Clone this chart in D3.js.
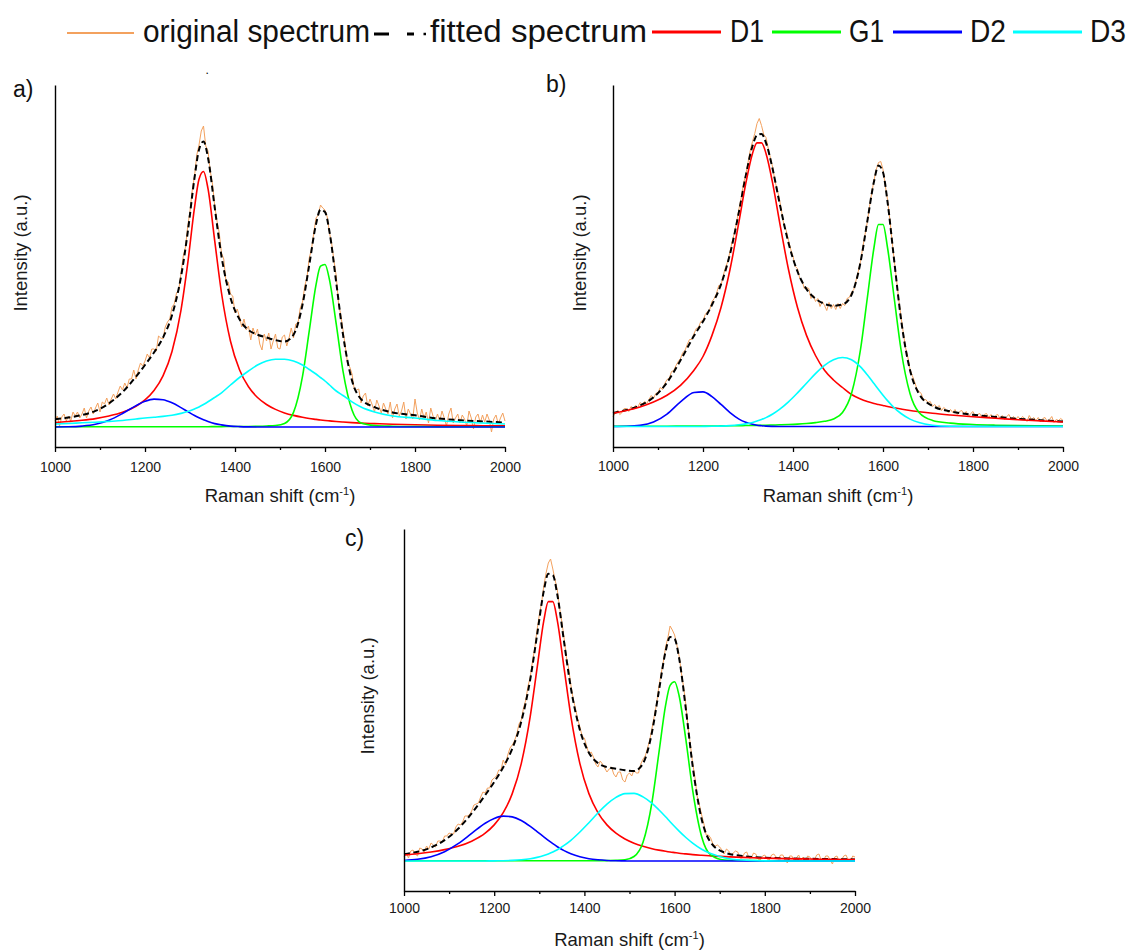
<!DOCTYPE html>
<html><head><meta charset="utf-8">
<script src="https://cdn.jsdelivr.net/npm/d3@7"></script>
<style>body{margin:0;background:#fff} svg{display:block} text{font-family:"Liberation Sans",Arial,sans-serif}</style>
</head><body><svg id="c" width="1132" height="952"></svg>
<script>
// ---------- data ----------
const seriesNames = ["original spectrum", "fitted spectrum", "D1", "G1", "D2", "D3"];
const seriesColors = ["#F3A15E", "#000000", "#FF0000", "#00FF00", "#0000FF", "#00FFFF"];
const majorTicks = [1000, 1200, 1400, 1600, 1800, 2000];
const minorTicks = [1100, 1300, 1500, 1700, 1900];
const xTitle = "Raman shift (cm";
const yTitle = "Intensity (a.u.)";

// raw spectrum sampling (cm-1), every 5 cm-1
const rawX = d3.range(1000, 2001, 5);
// fitted / component sampling (cm-1)
const fitX = [1000,1030,1060,1090,1120,1150,1180,1200,1220,1240,1260,1280,1295,1310,1320,1330,1340,1355,1370,1390,1410,1430,1450,1470,1490,1510,1530,1550,1565,1580,1590,1600,1610,1625,1640,1660,1680,1710,1750,1800,1850,1900,1950,2000];

// panel a
const aOriginal = [6,11,1,10,13,6,11,6,15,11, 15,9,13,19,9,16,20,13,19,24, 15,25,23,29,22,28,33,28,35,41, 37,44,39,48,48,57,48,57,64,61, 66,73,69,78,78,76,91,89,88,100, 105,108,120,123,134,137,154,171,180,201, 216,237,251,272,282,296,301,281,276,256, 243,221,206,194,174,168,145,145,133,131, 114,118,110,100,108,97,101,87,99,92, 98,83,77,93,86,94,78,86,93,79, 78,90,92,81,89,99,89,103,104,119, 125,141,150,169,178,194,209,212,222,219, 217,210,194,183,166,151,124,112,97,81, 64,60,53,38,37,38,24,31,34,21, 28,22,15,27,21,14,24,18,13,25, 9,18,23,11,16,25,8,18,13,8, 28,14,7,18,9,15,4,19,11,6, 13,6,16,9,1,13,19,4,9,13, 4,12,8,1,16,9,-2,10,13,4, 12,5,13,7,-5,8,12,3,9,14, 6];
const aFitted = [7.8,9.4,12.0,16.1,23.6,34.9,50.4,62.0,74.5,89.4,111.8,150.2,194.9,249.1,277.3,285.5,269.3,219.3,170.7,129.2,107.7,96.9,92.3,89.5,86.9,85.4,92.2,122.3,162.1,202.8,217.3,215,195.2,144.3,92.4,46.5,27.9,19.9,14.6,11.7,8.6,6.8,5.6,4.4];
const aD1 = [4.5,5.5,6.7,8.4,11.0,14.7,20.8,27.1,36.5,51.2,75.5,116.9,163.8,219.3,247.8,255.5,238.3,185.9,134.0,85.8,57.3,40.2,29.5,22.5,17.6,14.1,11.6,9.7,8.5,7.6,7.0,6.5,6.1,5.5,5.0,4.4,3.9,3.4,2.75,2.2,1.8,1.5,1.3,1.1];
const aG1 = [0.2,0.2,0.2,0.2,0.2,0.2,0.2,0.2,0.3,0.3,0.3,0.3,0.3,0.3,0.3,0.3,0.3,0.4,0.4,0.5,0.5,0.5,0.7,1.0,1.5,3.5,14.6,50.6,96.1,142.2,160.8,162.5,147.1,102.8,55.9,16.9,4.0,1.5,0.8,0.5,0.3,0.3,0.3,0.3];
const aD2 = [0.05,0.2,0.9,2.7,6.8,13.5,21.4,25.7,27.9,27.3,24.2,19.4,15.4,11.5,9.2,7.2,5.5,3.4,2.1,0.9,0.4,0.15,0.05,0,0,0,0,0,0,0,0,0,0,0,0,0,0,0,0,0,0,0,0,0];
const aD3 = [3,3.5,4.2,4.8,5.6,6.5,8,9,9.8,10.6,11.8,13.6,15.4,18,20,22.5,25.2,29.6,34.2,42,49.5,56,62,66,67.8,67.8,66,62,57.5,53,49.5,46,42,36,31.5,25.2,20,15,11,9,6.5,5,4,3];

// panel b
const bOriginal = [10,13,16,12,14,18,18,15,20,18, 21,19,24,22,25,23,27,31,28,33, 34,39,37,43,47,48,55,56,61,65, 68,74,76,82,87,87,93,98,99,105, 106,112,115,117,125,128,133,141,141,151, 159,165,175,185,194,205,218,229,243,252, 264,276,285,293,303,308,301,292,289,278, 268,259,245,237,227,214,201,196,186,177, 170,160,158,148,146,138,139,138,128,131, 125,128,120,125,121,116,124,118,122,117, 123,118,123,121,128,129,134,137,146,155, 165,179,192,204,220,234,246,257,264,265, 257,241,227,208,186,166,147,127,110,94, 79,70,57,51,45,38,35,33,26,27, 24,25,20,22,19,21,16,19,17,14, 17,14,17,12,15,16,12,15,10,13, 15,10,12,13,9,12,13,9,12,8, 11,12,8,11,7,10,12,7,10,7, 10,7,10,8,5,11,7,9,6,9, 5,8,9,5,7,10,4,7,6,8, 6];
const bFitted = [13.5,16.5,21.0,29.2,44.0,66.2,90.7,105.1,121.7,142.1,172.5,214.9,250.6,280.5,291.4,292.6,283.7,257.0,223.8,183.6,155.0,137.4,127.8,122.6,120.7,122,131.7,164.1,204.8,245,261.1,254.3,224.9,165.4,107.5,56.4,32.7,20.6,15.1,11.7,9.6,7.7,6.3,5.05];
const bD1 = [13.3,16.0,19.6,24.5,31.3,41.2,56.3,70,91.1,119.0,157.0,204.9,242.8,273.1,283.6,283.6,273.1,242.8,204.9,157.0,119.0,91.1,71.0,56.3,46.5,39,32,27.5,25,23,22,21,20,18.7,17.5,16,14.8,13.2,11.5,9.7,8.3,6.8,5.6,4.5];
const bG1 = [0.2,0.25,0.25,0.3,0.3,0.35,0.4,0.45,0.5,0.6,0.7,0.87,0.95,1.05,1.13,1.2,1.3,1.5,1.7,2.0,2.4,3.0,3.9,5.2,7.5,14,33,77,128,179,202,202,179,128,77,33,14,6.1,3.4,2.0,1.3,0.9,0.7,0.55];
const bD2 = [0,0.2,1.1,4.4,12.4,24.6,34.0,34.6,29.9,22.1,13.9,7.4,4.2,2.2,1.3,0.8,0.4,0.15,0.05,0,0,0,0,0,0,0,0,0,0,0,0,0,0,0,0,0,0,0,0,0,0,0,0,0];
const bD3 = [0,0,0,0,0,0,0,0.08,0.19,0.41,0.86,1.7,2.65,4.1,5.4,7.0,8.9,12.5,17.1,24.6,33.6,43.3,52.9,61.1,66.7,69,66.7,59.6,51.8,43.0,37.1,31.3,25.9,18.7,13.0,7.4,3.9,1.3,0.2,0,0,0,0,0];

// panel c
const cOriginal = [4,8,3,10,11,7,5,13,12,9, 15,12,18,16,14,20,20,19,25,25, 28,27,27,34,37,36,39,45,45,46, 50,56,57,58,64,69,68,73,73,81, 83,85,91,91,101,96,106,113,116,120, 127,137,141,153,161,175,184,200,213,231, 246,258,275,288,298,302,292,281,271,253, 239,223,204,193,176,162,153,142,134,125, 123,115,107,109,104,97,94,100,97,93, 89,92,94,87,84,89,89,81,79,86, 88,85,91,88,88,97,102,105,113,121, 133,145,157,174,187,199,214,223,235,231, 226,216,205,188,174,156,133,116,98,84, 65,56,46,37,26,26,23,17,15,16, 14,11,7,12,10,6,8,10,9,3, 3,8,9,3,3,8,7,2,1,5, 6,2,1,6,7,4,2,6,6,1, -2,5,5,0,3,6,1,4,0,5, 4,0,1,6,7,1,0,5,5,1, -3,4,5,0,1,5,6,1,0,5, 4];
const cFitted = [6.8,9.2,13.5,20.9,32.2,47.6,65.9,79.0,93.8,112.3,139.3,181.9,225.8,270.1,287.2,285.9,266.2,218.8,173.0,131.0,108.3,97.9,93.9,92.3,90.7,89.9,97.6,129.1,169.6,209.5,223.9,222.1,203,151.9,95.2,41.8,18.6,8.65,5.0,3.3,2.55,2.2,1.9,1.6];
const cD1 = [6.06,7.32,9.0,11.35,14.7,19.8,27.8,36.1,48.4,67.4,97.4,144.8,192.6,240.4,259.4,259.4,240.4,192.6,144.8,97.4,67.4,48.4,36.1,27.8,22.0,17.8,14.7,12.3,10.9,9.7,9.0,8.4,7.8,7.1,6.4,5.7,5.1,4.35,3.6,2.9,2.35,1.97,1.67,1.43];
const cG1 = [0.2,0.2,0.2,0.2,0.2,0.2,0.2,0.2,0.2,0.2,0.2,0.2,0.2,0.2,0.2,0.2,0.2,0.2,0.2,0.2,0.25,0.3,0.4,0.6,1.2,4.5,18.8,59.2,107.5,155.6,175.6,179.2,165.3,121.3,70.9,24.3,6.1,1.0,0.5,0.3,0.2,0.2,0.2,0.2];
const cD2 = [0.56,1.7,4.3,9.3,17.3,27.6,37.8,42.6,44.9,44.1,40.5,34.6,29.4,24.1,20.6,17.3,14.3,10.4,7.3,4.3,2.3,1.2,0.56,0.25,0.1,0,0,0,0,0,0,0,0,0,0,0,0,0,0,0,0,0,0,0];
const cD3 = [0,0,0,0,0,0,0.05,0.13,0.29,0.61,1.22,2.3,3.6,5.4,7.0,9.0,11.3,15.6,20.7,29.0,38.3,48.0,56.8,63.6,67.4,67.6,64.1,57.6,51.2,44.2,39.3,34.5,29.9,23.5,17.9,11.8,7.4,3.3,0.93,0.14,0,0,0,0];

// ---------- layout ----------
const panels = [
  {label:"a)", orig:aOriginal, fit:aFitted, comps:[aD1,aG1,aD2,aD3], x0:55, x1:505, yTop:85, yBot:447, yDom:[-20,342], pad:10, labX:13, labY:97, yLabX:27, yLabY:253, titleY:502},
  {label:"b)", orig:bOriginal, fit:bFitted, comps:[bD1,bG1,bD2,bD3], x0:613, x1:1063, yTop:85, yBot:447, yDom:[-20.5,341.5], pad:9, labX:546, labY:92, yLabX:586, yLabY:253, titleY:502},
  {label:"c)", orig:cOriginal, fit:cFitted, comps:[cD1,cG1,cD2,cD3], x0:404, x1:855, yTop:529, yBot:891, yDom:[-30,332], pad:7, labX:345, labY:546, yLabX:374, yLabY:696, titleY:946}
];

const svg = d3.select("#c");

panels.forEach(p => {
  const x = d3.scaleLinear().domain([1000, 2000]).range([p.x0, p.x1]);
  const y = d3.scaleLinear().domain(p.yDom).range([p.yBot, p.yTop]);
  const g = svg.append("g");

  // curves
  const rawLine = d3.line().x((d, i) => x(rawX[i])).y(d => y(d));
  const smoothLine = d3.line().x((d, i) => x(fitX[i])).y(d => y(d)).curve(d3.curveMonotoneX);
  g.append("path").attr("d", rawLine(p.orig)).attr("fill", "none")
    .attr("stroke", seriesColors[0]).attr("stroke-width", 1).attr("stroke-linejoin", "round");
  g.append("path").attr("d", smoothLine(p.fit)).attr("fill", "none")
    .attr("stroke", seriesColors[1]).attr("stroke-width", 2).attr("stroke-dasharray", "6,3.5");
  p.comps.forEach((c, k) => {
    g.append("path").attr("d", smoothLine(c)).attr("fill", "none")
      .attr("stroke", seriesColors[k + 2]).attr("stroke-width", 1.6);
  });

  // axes
  const ax = g.append("g").attr("transform", `translate(0,${p.yBot})`)
    .call(d3.axisBottom(x).tickValues(majorTicks).tickSize(5).tickSizeOuter(0).tickPadding(p.pad).tickFormat(d3.format("d")));
  ax.selectAll("text").attr("font-size", 14).attr("fill", "#1a1a1a").attr("font-family", '"Liberation Sans",Arial,sans-serif');
  ax.select(".domain").attr("stroke-width", 1.4);
  ax.selectAll(".tick line").attr("stroke-width", 1.3);
  const mx = g.append("g").attr("transform", `translate(0,${p.yBot})`)
    .call(d3.axisBottom(x).tickValues(minorTicks).tickSize(3).tickSizeOuter(0).tickFormat(""));
  mx.select(".domain").remove();
  mx.selectAll(".tick line").attr("stroke-width", 1.3);
  const ay = g.append("g").attr("transform", `translate(${p.x0},0)`)
    .call(d3.axisLeft(y).tickValues([]).tickSizeOuter(0));
  ay.select(".domain").attr("stroke-width", 1.4);

  // titles
  const t = g.append("text").attr("x", (p.x0 + p.x1) / 2).attr("y", p.titleY)
    .attr("text-anchor", "middle").attr("font-size", 18.5).attr("fill", "#1a1a1a");
  t.append("tspan").text(xTitle);
  t.append("tspan").attr("font-size", 11).attr("dy", -7).text("-1");
  t.append("tspan").attr("dy", 7).text(")");
  g.append("text").attr("transform", `translate(${p.yLabX},${p.yLabY}) rotate(-90)`)
    .attr("text-anchor", "middle").attr("font-size", 18.5).attr("fill", "#1a1a1a").text(yTitle);
  g.append("text").attr("x", p.labX).attr("y", p.labY).attr("font-size", 23).attr("fill", "#111").text(p.label);
});

// stray dot from the original figure
svg.append("text").attr("x", 205.5).attr("y", 74).attr("font-size", 12).attr("fill", "#000").text(".");

// ---------- legend ----------
const legendLayout = [
  {x0:67, x1:134, ly:33, tx:143, tl:227},
  {x0:374, x1:426, ly:34, tx:430, tl:217},
  {x0:652, x1:721, ly:32, tx:730, tl:34},
  {x0:772, x1:841, ly:32, tx:849, tl:35},
  {x0:893, x1:962, ly:32, tx:970, tl:36},
  {x0:1013, x1:1082, ly:32, tx:1090, tl:36}
];
const lg = svg.append("g");
seriesNames.forEach((name, i) => {
  const L = legendLayout[i];
  if (i === 1) {
    lg.append("line").attr("x1", L.x0).attr("x2", 389).attr("y1", L.ly).attr("y2", L.ly).attr("stroke", "#000").attr("stroke-width", 3);
    lg.append("line").attr("x1", 407).attr("x2", 414).attr("y1", L.ly).attr("y2", L.ly).attr("stroke", "#000").attr("stroke-width", 3);
    lg.append("line").attr("x1", 423.5).attr("x2", 426).attr("y1", L.ly).attr("y2", L.ly).attr("stroke", "#000").attr("stroke-width", 2.5);
  } else {
    lg.append("line").attr("x1", L.x0).attr("x2", L.x1).attr("y1", L.ly).attr("y2", L.ly)
      .attr("stroke", seriesColors[i]).attr("stroke-width", i === 0 ? 2 : 3);
  }
  lg.append("text").attr("x", L.tx).attr("y", 42).attr("font-size", 31).attr("fill", "#111")
    .attr("textLength", L.tl).attr("lengthAdjust", "spacingAndGlyphs").text(name);
});
</script></body></html>
